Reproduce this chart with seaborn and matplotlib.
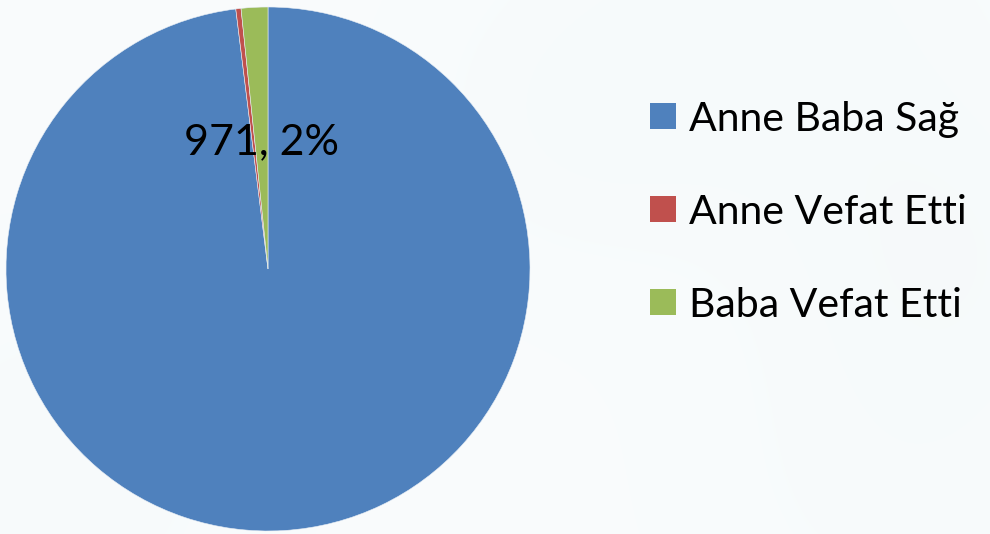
import numpy as np
import matplotlib
matplotlib.use("Agg")
import matplotlib.pyplot as plt
import seaborn as sns

# Parent status counts
categories = ["Anne Baba Sağ", "Anne Vefat Etti", "Baba Vefat Etti"]
counts = [58000, 190, 971]
colors = ["#4F81BD", "#C0504D", "#9BBB59"]
labelled = "Baba Vefat Etti"

sns.set_theme(style="white")
plt.rcParams["font.family"] = ["Lato", "DejaVu Sans"]

W, H = 990, 534
fig = plt.figure(figsize=(W / 100, H / 100), dpi=100)

# soft, pale backdrop
bg = fig.add_axes([0, 0, 1, 1])
yy, xx = np.mgrid[0:H, 0:W]
field = np.zeros((H, W))
for cx, cy, s, a in [(780, 20, 160, 0.06), (960, 250, 120, 0.05),
                     (60, 470, 140, 0.05), (900, 480, 150, 0.04),
                     (560, 120, 110, 0.04)]:
    field += a * np.exp(-((xx - cx) ** 2 + (yy - cy) ** 2) / (2 * s ** 2))
base = np.array([0.978, 0.988, 0.992])
tint = np.array([0.80, 0.88, 0.88])
img = base[None, None, :] * (1 - field[..., None]) + tint[None, None, :] * field[..., None]
bg.imshow(img, extent=[0, W, H, 0], aspect="auto", interpolation="bilinear")
bg.set_axis_off()

# pie axes: center (268, 269) px, radius 262 px
cx, cy, r = 268, 269, 262
ax = fig.add_axes([(cx - r) / W, (H - cy - r) / H, 2 * r / W, 2 * r / H])
ax.set_facecolor("none")
wedges, _ = ax.pie(counts, colors=colors, startangle=90, counterclock=False,
                   radius=1.0, wedgeprops=dict(linewidth=0.4, edgecolor="#e8eef5"))
ax.set_xlim(-1, 1)
ax.set_ylim(-1, 1)
ax.set_aspect("equal")
ax.set_axis_off()

total = sum(counts)
i = categories.index(labelled)
w = wedges[i]
mid = np.deg2rad((w.theta1 + w.theta2) / 2)
pct = counts[i] / total * 100
ax.text(0.485 * np.cos(mid), 0.485 * np.sin(mid), f"{counts[i]}, {pct:.0f}%",
        ha="center", va="center", fontsize=31, color="black")

# legend
for k, (name, col) in enumerate(zip(categories, colors)):
    yc = 116 + 93 * k
    fig.patches.append(plt.Rectangle((650 / W, (H - yc - 13) / H), 26 / W, 26 / H,
                                     transform=fig.transFigure, facecolor=col,
                                     edgecolor="none"))
    fig.text(689 / W, (H - yc) / H, name, ha="left", va="center_baseline",
             fontsize=29.5, color="black")

fig.savefig("out.png", dpi=100)
